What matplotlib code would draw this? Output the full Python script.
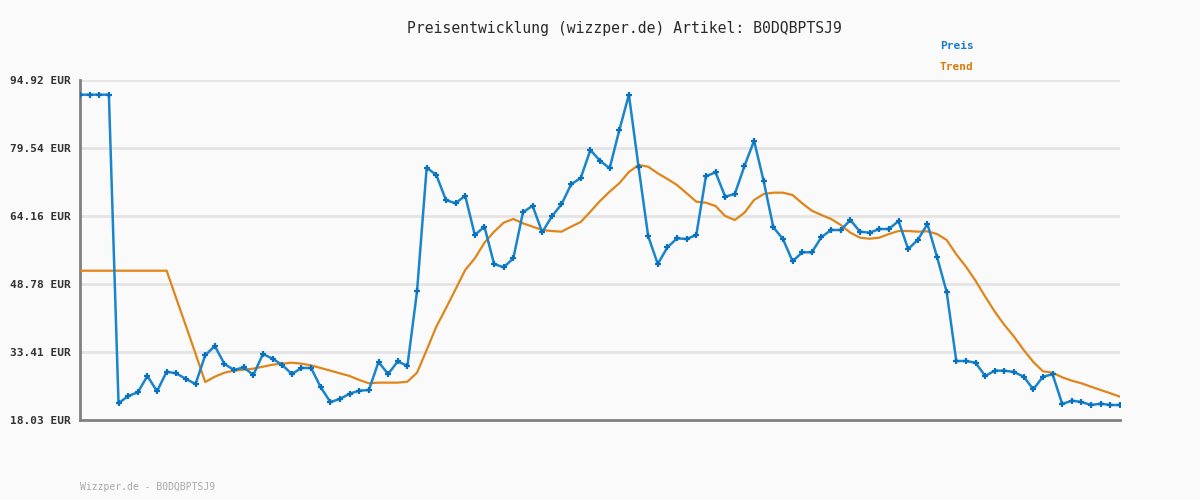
import matplotlib.pyplot as plt
import numpy as np

# values
preis = [
    91.6, 91.6, 91.6, 91.6, 21.8, 23.46, 24.29, 27.98, 24.52, 28.95,
    28.58, 27.3, 26.17, 32.66, 34.76, 30.69, 29.34, 29.94, 28.21, 32.95,
    31.89, 30.47, 28.43, 29.79, 29.79, 25.42, 22.1, 22.78, 23.98, 24.66,
    24.81, 31.15, 28.43, 31.3, 30.24, 47.14, 75.09, 73.44, 67.78, 67.03,
    68.76, 59.87, 61.75, 53.31, 52.56, 54.59, 64.99, 66.49, 60.47, 64.09,
    66.8, 71.33, 72.76, 79.09, 76.67, 74.95, 83.54, 91.6, 75.32, 59.64,
    53.31, 57.08, 59.12, 58.96, 59.87, 73.14, 74.05, 68.53, 69.14, 75.47,
    81.19, 72.01, 61.61, 58.96, 53.92, 55.95, 55.95, 59.41, 61.0, 61.0,
    63.26, 60.62, 60.39, 61.22, 61.22, 63.03, 56.7, 58.74, 62.36, 54.89,
    46.98, 31.37, 31.37, 30.99, 27.98, 29.19, 29.19, 28.88, 27.82, 24.97,
    27.82, 28.37, 21.65, 22.4, 22.1, 21.42, 21.72, 21.42, 21.42,
]
trend = [
    51.79, 51.79, 51.79, 51.79, 51.79, 51.79, 51.79, 51.79, 51.79, 51.79,
    45.5, 39.3, 33.0, 26.62, 27.82, 28.73, 29.19, 29.41, 29.64, 30.09,
    30.54, 30.77, 30.99, 30.77, 30.39, 29.79, 29.19, 28.58, 27.98, 27.08,
    26.33, 26.48, 26.48, 26.48, 26.69, 28.73, 33.86, 39.13, 43.29, 47.59,
    51.95, 54.59, 58.12, 60.62, 62.66, 63.49, 62.51, 61.75, 61.0, 60.77,
    60.62, 61.75, 62.81, 65.14, 67.56, 69.66, 71.56, 74.11, 75.7, 75.32,
    73.82, 72.53, 71.17, 69.3, 67.4, 67.17, 66.42, 64.16, 63.26, 64.91,
    67.78, 69.14, 69.44, 69.44, 68.91, 67.03, 65.36, 64.39, 63.49, 62.13,
    60.39, 59.26, 59.03, 59.26, 60.09, 60.77, 60.77, 60.62, 60.7, 60.09,
    58.74, 55.5, 52.71, 49.53, 45.93, 42.53, 39.51, 36.87, 33.86, 31.15,
    29.04, 28.73, 27.68, 26.92, 26.33, 25.56, 24.81, 24.07, 23.3,
]
yticks = [18.03, 33.41, 48.78, 64.16, 79.54, 94.92]
ytick_labels = ["18.03 EUR", "33.41 EUR", "48.78 EUR", "64.16 EUR", "79.54 EUR", "94.92 EUR"]
artikel = "B0DQBPTSJ9"

plt.rcParams["font.family"] = "DejaVu Sans Mono"
bg = "#fafafa"
blue = "#1a84cc"
orange = "#e0851a"

fig = plt.figure(figsize=(12, 5), dpi=100, facecolor=bg)
ax = fig.add_axes([80 / 1200, 80 / 500, 1040 / 1200, 340 / 500], facecolor=bg)

x = np.arange(len(preis))
ax.plot(x, trend, color=orange, linewidth=1.6, zorder=3)
ax.plot(x, preis, color=blue, linewidth=1.8, marker="+", markersize=4,
        markeredgewidth=1.6, markeredgecolor="#0a72bd", zorder=4)

ax.set_xlim(0, len(preis) - 1)
ax.set_ylim(yticks[0], yticks[-1])
ax.set_yticks(yticks)
ax.set_yticklabels(ytick_labels, fontsize=8, color="#333333", fontweight="bold")
ax.set_xticks([])
ax.tick_params(axis="y", length=0, pad=7)
for v in yticks[1:]:
    ax.axhline(v, color="#e4e4e4", linewidth=2, zorder=1)
for s in ["top", "right"]:
    ax.spines[s].set_visible(False)
for s in ["left", "bottom"]:
    ax.spines[s].set_color("#808080")
    ax.spines[s].set_linewidth(2)

fig.text(624 / 1200, 1 - 28 / 500, "Preisentwicklung (wizzper.de) Artikel: " + artikel,
         ha="center", va="center", fontsize=10.6, color="#2a2a2a")
fig.text(940 / 1200, 1 - 46 / 500, "Preis", ha="left", va="center",
         fontsize=8, color="#1a7cc4", fontweight="bold")
fig.text(940 / 1200, 1 - 67 / 500, "Trend", ha="left", va="center",
         fontsize=8, color="#d9790a", fontweight="bold")
fig.text(80 / 1200, 1 - 487 / 500, "Wizzper.de - " + artikel, ha="left", va="center",
         fontsize=7, color="#aaaaaa")

plt.savefig("out.png", dpi=100, facecolor=bg)
